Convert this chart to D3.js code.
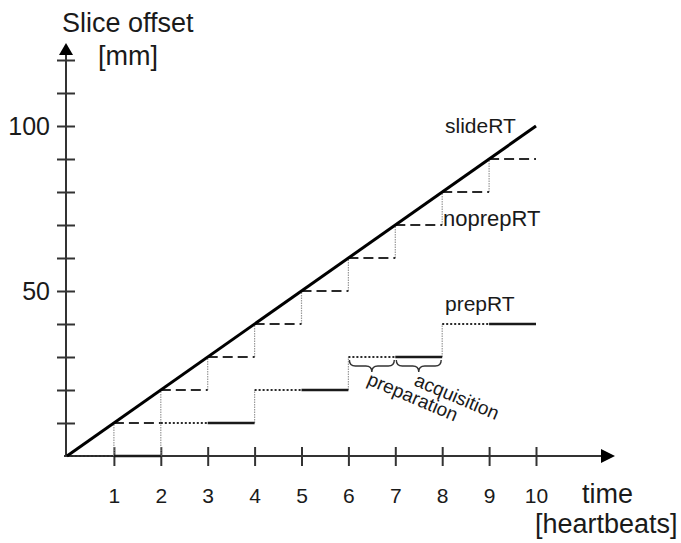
<!DOCTYPE html>
<html>
<head>
<meta charset="utf-8">
<script src="https://cdn.jsdelivr.net/npm/d3@7"></script>
<style>
  html, body { margin: 0; padding: 0; background: #fff; }
  svg { display: block; font-family: "Liberation Sans", Arial, sans-serif; }
</style>
</head>
<body>
<svg id="chart" width="681" height="543"></svg>
<script>
// ---- data ----
const xTicks = [1, 2, 3, 4, 5, 6, 7, 8, 9, 10];
const yTicks = [10, 20, 30, 40, 50, 60, 70, 80, 90, 100, 110, 120];
const yLabelled = [50, 100];
const slideRT = [[0, 0], [10, 100]];
const noprepStart = [1, 2, 3, 4, 5, 6, 7, 8, 9];
const noprepLevel = [10, 20, 30, 40, 50, 60, 70, 80, 90];
const prepStart = [0, 2, 4, 6, 8];
const prepLevel = [0, 10, 20, 30, 40];
const braces = [
  { t0: 6, t1: 7, level: 30, label: "preparation" },
  { t0: 7, t1: 8, level: 30, label: "acquisition" }
];

const svg = d3.select("#chart");
const x = d3.scaleLinear().domain([0, 10]).range([67, 536]);
const y = d3.scaleLinear().domain([0, 100]).range([456, 126]);
const ink = "#1a1a1a";

// ---- axes ----
const xAxis = d3.axisBottom(x).tickValues(xTicks).tickSize(19).tickPadding(22).tickFormat(d3.format("d"));
const gx = svg.append("g").attr("transform", "translate(0,447)").call(xAxis);
gx.select(".domain").remove();
gx.selectAll(".tick line").attr("stroke", "#333").attr("stroke-width", 2);
gx.selectAll(".tick text").attr("font-size", 21).attr("fill", ink)
  .attr("font-family", "'Liberation Sans', Arial, sans-serif");

const yAxis = d3.axisLeft(y).tickValues(yTicks).tickSize(18).tickPadding(7)
  .tickFormat(d => yLabelled.includes(d) ? d : "");
const gy = svg.append("g").attr("transform", "translate(75,0)").call(yAxis);
gy.select(".domain").remove();
gy.selectAll(".tick line").attr("stroke", "#333").attr("stroke-width", 2);
gy.selectAll(".tick text").attr("font-size", 25).attr("fill", ink)
  .attr("font-family", "'Liberation Sans', Arial, sans-serif");

// axis lines with arrows
svg.append("line").attr("x1", x(0) - 3).attr("y1", y(0)).attr("x2", 603).attr("y2", y(0))
  .attr("stroke", "#333").attr("stroke-width", 2);
svg.append("path").attr("d", `M601,${y(0) - 7}L615,${y(0)}L601,${y(0) + 7}Z`).attr("fill", "#000");
svg.append("line").attr("x1", 66).attr("y1", y(0)).attr("x2", 66).attr("y2", 53)
  .attr("stroke", "#333").attr("stroke-width", 2);
svg.append("path").attr("d", "M59,55L66,43L73,55Z").attr("fill", "#000");

// axis titles
svg.append("text").attr("x", 62).attr("y", 32).attr("font-size", 27).attr("fill", ink).text("Slice offset");
svg.append("text").attr("x", 98).attr("y", 65).attr("font-size", 27).attr("fill", ink).text("[mm]");
svg.append("text").attr("x", 582).attr("y", 503).attr("font-size", 27).attr("fill", ink).text("time");
svg.append("text").attr("x", 535).attr("y", 533).attr("font-size", 27).attr("fill", ink).text("[heartbeats]");

// ---- grey connecting verticals ----
const vGrey = svg.append("g").attr("stroke", "#9a9a9a").attr("stroke-width", 1.2).attr("stroke-dasharray", "1.5,1");
noprepStart.forEach((t, i) => {
  const prev = i === 0 ? 0 : noprepLevel[i - 1];
  vGrey.append("line").attr("x1", x(t)).attr("x2", x(t)).attr("y1", y(prev)).attr("y2", y(noprepLevel[i]));
});
prepStart.forEach((t, i) => {
  if (i === 0) return;
  vGrey.append("line").attr("x1", x(t)).attr("x2", x(t)).attr("y1", y(prepLevel[i - 1])).attr("y2", y(prepLevel[i]));
});

// ---- noprepRT dashed steps ----
svg.append("g").selectAll("line").data(noprepStart).join("line")
  .attr("x1", d => x(d)).attr("x2", (d) => x(d + 1))
  .attr("y1", (d, i) => y(noprepLevel[i])).attr("y2", (d, i) => y(noprepLevel[i]))
  .attr("stroke", "#2a2a2a").attr("stroke-width", 2.2).attr("stroke-dasharray", "10,5");

// ---- prepRT: preparation (dotted) + acquisition (solid) ----
svg.append("g").selectAll("line").data(prepStart).join("line")
  .attr("x1", d => x(d)).attr("x2", d => x(d + 1))
  .attr("y1", (d, i) => y(prepLevel[i])).attr("y2", (d, i) => y(prepLevel[i]))
  .attr("stroke", "#2a2a2a").attr("stroke-width", 2).attr("stroke-dasharray", "2,2");
svg.append("g").selectAll("line").data(prepStart).join("line")
  .attr("x1", d => x(d + 1)).attr("x2", d => x(d + 2))
  .attr("y1", (d, i) => y(prepLevel[i])).attr("y2", (d, i) => y(prepLevel[i]))
  .attr("stroke", "#1a1a1a").attr("stroke-width", 2.4);

// ---- slideRT ----
svg.append("path").datum(slideRT)
  .attr("d", d3.line().x(d => x(d[0])).y(d => y(d[1])))
  .attr("stroke", "#000").attr("stroke-width", 3).attr("fill", "none");

// ---- braces ----
function bracePath(x1, x2, yy, h) {
  const m = (x1 + x2) / 2, q = h / 2;
  return `M${x1},${yy} q0,${q} ${q},${q} L${m - q},${yy + q} q${q},0 ${q},${q} q0,${-q} ${q},${-q} L${x2 - q},${yy + q} q${q},0 ${q},${-q}`;
}
braces.forEach(b => {
  svg.append("path").attr("d", bracePath(x(b.t0) + 1, x(b.t1) - 1, y(b.level) + 3, 12))
    .attr("fill", "none").attr("stroke", "#333").attr("stroke-width", 1.4);
});
const labelPos = [[366, 384], [413, 385]];
braces.forEach((b, i) => {
  svg.append("text").attr("transform", `translate(${labelPos[i][0]},${labelPos[i][1]}) rotate(23)`)
    .attr("font-size", 19).attr("fill", ink).text(b.label);
});

// ---- series labels ----
svg.append("text").attr("x", 445).attr("y", 133).attr("font-size", 21).attr("fill", ink).text("slideRT");
svg.append("text").attr("x", 443).attr("y", 226).attr("font-size", 22).attr("fill", ink).text("noprepRT");
svg.append("text").attr("x", 445).attr("y", 311).attr("font-size", 21).attr("fill", ink).text("prepRT");
</script>
</body>
</html>
